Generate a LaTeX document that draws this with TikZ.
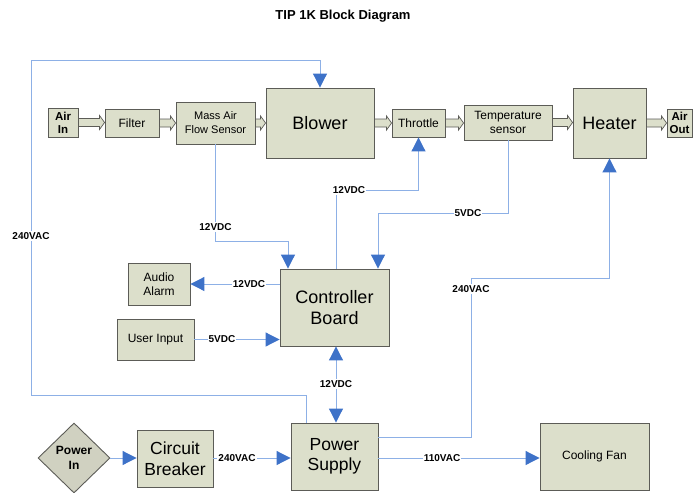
\documentclass[tikz,border=0pt]{standalone}
\usepackage{fontspec}
\setmainfont{Liberation Sans}
\usetikzlibrary{arrows.meta,calc,shapes.geometric}

\definecolor{boxfill}{HTML}{DCDFCB}
\definecolor{boxline}{HTML}{5C5C57}
\definecolor{diafill}{HTML}{D0D1C1}
\definecolor{wire}{HTML}{8DB0E6}
\definecolor{tipblue}{HTML}{3E72C8}

% hollow "air flow" arrow between two boxes of the air path
\newcommand\airflow[2]{%
  \draw[flowarrow] let \p1=(#1.east), \p2=(#2.west) in
    (\x1,\y1+4pt) -- (\x2-5pt,\y1+4pt) -- (\x2-5pt,\y1+7pt) -- (\x2,\y1)
    -- (\x2-5pt,\y1-7pt) -- (\x2-5pt,\y1-4pt) -- (\x1,\y1-4pt) -- cycle;}

\begin{document}
\begin{tikzpicture}[x=1pt,y=-1pt,
  blk/.style={draw=boxline, fill=boxfill, line width=0.9pt, inner sep=1pt, align=center},
  bigtxt/.style={font=\fontsize{18}{21}\selectfont},
  midtxt/.style={font=\fontsize{17.5}{20.5}\selectfont},
  smalltxt/.style={font=\fontsize{12}{13.5}\selectfont},
  boldtxt/.style={font=\bfseries\fontsize{11.5}{13}\selectfont},
  flowarrow/.style={draw=boxline, fill=boxfill, line width=0.7pt, line join=miter},
  wireline/.style={draw=wire, line width=1pt},
  tip/.style={-{Triangle[length=14pt,width=14pt,color=tipblue]}},
  tips/.style={{Triangle[length=14pt,width=14pt,color=tipblue]}-{Triangle[length=14pt,width=14pt,color=tipblue]}},
  lbl/.style={fill=white, inner sep=1pt, font=\bfseries\fontsize{10}{11}\selectfont}]

\useasboundingbox (0,0) rectangle (694,493);

% title
\node[font=\bfseries\fontsize{13}{15}\selectfont] (title) at (343,16) {TIP 1K Block Diagram};

% air path
\node[blk, boldtxt, minimum width=30pt, minimum height=29pt] (airin) at (63,122.5) {Air\\In};
\node[blk, smalltxt, minimum width=54pt, minimum height=28pt] (filter) at (132,123) {Filter};
\node[blk, font=\fontsize{11}{14}\selectfont, minimum width=79pt, minimum height=42pt] (maf) at (215.5,123) {Mass Air\\Flow Sensor};
\node[blk, bigtxt, minimum width=108pt, minimum height=70pt] (blower) at (320,123) {Blower};
\node[blk, smalltxt, minimum width=53pt, minimum height=28pt] (throttle) at (418.5,123) {Throttle};
\node[blk, smalltxt, minimum width=88pt, minimum height=35pt] (temp) at (508,122.5) {Temperature\\sensor};
\node[blk, bigtxt, minimum width=73pt, minimum height=70pt] (heater) at (609.5,123) {Heater};
\node[blk, boldtxt, minimum width=25pt, minimum height=28pt, inner sep=0pt] (airout) at (679.5,123) {Air\\Out};

\airflow{airin}{filter}
\airflow{filter}{maf}
\airflow{maf}{blower}
\airflow{blower}{throttle}
\airflow{throttle}{temp}
\airflow{temp}{heater}
\airflow{heater}{airout}

% control and power blocks
\node[blk, bigtxt, minimum width=109pt, minimum height=77pt] (cb) at (334.5,307.5) {Controller\\Board};
\node[blk, smalltxt, minimum width=62pt, minimum height=42pt] (alarm) at (159,284) {Audio\\Alarm};
\node[blk, smalltxt, minimum width=77pt, minimum height=41pt] (user) at (155.5,339.5) {User Input};
\node[blk, midtxt, minimum width=87pt, minimum height=67pt] (ps) at (334.5,456.5) {Power\\Supply};
\node[blk, midtxt, minimum width=76pt, minimum height=57pt] (breaker) at (175,458.5) {Circuit\\Breaker};
\node[blk, fill=diafill, diamond, font=\bfseries\fontsize{12}{15}\selectfont, minimum width=72pt, minimum height=70pt, inner sep=0pt] (powerin) at (74,458) {Power\\In};
\node[blk, smalltxt, minimum width=109pt, minimum height=67pt] (fan) at (594.5,456.5) {Cooling Fan};

% 240VAC feed to the blower
\coordinate (f1) at (31,395);
\coordinate (f2) at (31,60);
\draw[wireline, tip] ([xshift=-28.5pt]ps.north) |- (f1) -- (f2) -| (blower.north);
\node[lbl] (l240a) at (31,236) {240VAC};

% mass air flow sensor to controller
\coordinate (m1) at (288,241);
\draw[wireline, tip] (maf.south) |- (m1) -- (m1 |- cb.north);
\node[lbl] (l12a) at (215.5,227) {12VDC};

% controller to throttle
\coordinate (t1) at (336,190);
\draw[wireline, tip] ([xshift=1.5pt]cb.north) -- (t1) -| (throttle.south);
\node[lbl] (l12b) at (349,190) {12VDC};

% temperature sensor to controller
\coordinate (s1) at (378,213);
\draw[wireline, tip] (temp.south) |- (s1) -- (s1 |- cb.north);
\node[lbl] (l5a) at (468,213) {5VDC};

% controller to audio alarm
\draw[wireline, tip] (cb.west |- alarm.east) -- (alarm.east);
\node[lbl] (l12c) at (249,284) {12VDC};

% user input to controller
\draw[wireline, tip] (user.east) -- (user.east -| cb.west);
\node[lbl] (l5b) at (222,339.5) {5VDC};

% power supply <-> controller
\draw[wireline, tips] ([xshift=1.5pt]cb.south) -- ([xshift=1.5pt]ps.north);
\node[lbl] (l12d) at (336,384) {12VDC};

% power supply to heater
\coordinate (h1) at (471,437);
\coordinate (h2) at (471,278);
\draw[wireline, tip] ([yshift=19.5pt]ps.east) -- (h1) -- (h2) -| (heater.south);
\node[lbl] (l240b) at (471,289) {240VAC};

% mains input chain
\draw[wireline, tip] (powerin.east) -- (powerin.east -| breaker.west);
\draw[wireline, tip] (breaker.east |- powerin.east) -- (powerin.east -| ps.west);
\node[lbl] (l240c) at (237,458) {240VAC};

% power supply to cooling fan
\draw[wireline, tip] (ps.east |- powerin.east) -- (powerin.east -| fan.west);
\node[lbl] (l110) at (442,458) {110VAC};

\end{tikzpicture}
\end{document}
